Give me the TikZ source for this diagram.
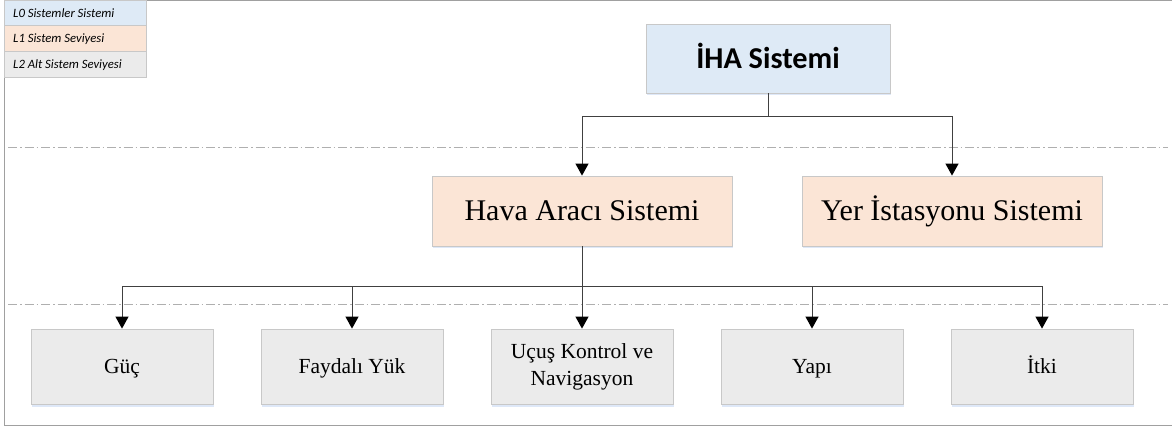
\documentclass[tikz,border=0pt]{standalone}
\usepackage{fontspec}
\setmainfont{Liberation Serif}
\newfontfamily\calfont{Carlito}
\usetikzlibrary{arrows.meta,shadows,calc}
\definecolor{lzero}{RGB}{222,234,246}
\definecolor{lone}{RGB}{251,229,214}
\definecolor{ltwo}{RGB}{235,235,235}
\definecolor{boxline}{RGB}{200,200,200}
\definecolor{frameline}{RGB}{160,160,160}
\definecolor{glow}{RGB}{200,218,244}
\definecolor{sepline}{RGB}{175,175,175}
\tikzset{
  sysbox/.style={draw=boxline, line width=0.8pt, inner sep=0pt, align=center,
    drop shadow={shadow xshift=1pt, shadow yshift=-2.5pt, fill=glow, opacity=0.6}},
  lvlzero/.style={sysbox, fill=lzero, minimum width=244pt, minimum height=69pt,
    text height=19.5pt, text depth=0pt,
    font=\calfont\bfseries\fontsize{30.3}{36}\selectfont},
  lvlone/.style={sysbox, fill=lone, minimum width=300pt, minimum height=70pt,
    text height=19.8pt, text depth=0pt,
    font=\fontsize{30}{36}\selectfont},
  lvltwo/.style={sysbox, fill=ltwo, minimum width=182pt, minimum height=75pt,
    font=\fontsize{21.5}{27}\selectfont},
  oneline/.style={text height=14.2pt, text depth=0pt},
  legendrow/.style={draw=boxline, line width=0.6pt},
  legendtext/.style={anchor=west, inner sep=0pt, text height=8.2pt, text depth=0pt,
    font=\calfont\itshape\fontsize{12.7}{14}\selectfont},
  conn/.style={line width=1pt, draw=black!75, -{Triangle[length=12pt,width=13pt,color=black]}},
  levelsep/.style={sepline, line width=0.8pt, dash pattern=on 9pt off 3pt on 1.5pt off 3pt}
}
\begin{document}
\begin{tikzpicture}[x=1pt, y=1pt]
  % canvas and outer frame
  \useasboundingbox (0,0) rectangle (1172,-430);
  \fill[white] (0,0) rectangle (1172,-430);
  \draw[frameline, line width=1pt] (4.5,-0.5) -- (1171.5,-0.5);
  \draw[frameline, line width=1pt] (4.5,-0.5) -- (4.5,-425.5) -- (1172,-425.5);

  % level legend
  \fill[lzero] (4.5,-0.5) rectangle (146,-25);
  \fill[lone] (4.5,-25) rectangle (146,-51);
  \fill[ltwo] (4.5,-51) rectangle (146,-77);
  \draw[legendrow] (4.5,-25) -- (146,-25);
  \draw[legendrow] (4.5,-51) -- (146,-51);
  \draw[legendrow] (4.5,-0.5) rectangle (146,-77);
  \node[legendtext] (lgzero) at (13,-13) {L0 Sistemler Sistemi};
  \node[legendtext] (lgone) at (13,-38.5) {L1 Sistem Seviyesi};
  \node[legendtext] (lgtwo) at (13,-64) {L2 Alt Sistem Seviyesi};

  % level separators
  \draw[levelsep] (8,-147) -- (1168,-147);
  \draw[levelsep] (8,-304) -- (1168,-304);

  % L0
  \node[lvlzero] (iha) at (768,-58.5) {İHA Sistemi};

  % L1
  \node[lvlone] (hava) at (582,-211) {Hava Aracı Sistemi};
  \node[lvlone] (yer) at (952,-211) {Yer İstasyonu Sistemi};

  % L2
  \node[lvltwo, oneline] (guc) at (122,-366.5) {Güç};
  \node[lvltwo, oneline] (yuk) at (352,-366.5) {Faydalı Yük};
  \node[lvltwo] (ucus) at (582,-366.5) {Uçuş Kontrol ve\\Navigasyon};
  \node[lvltwo, oneline] (yapi) at (812,-366.5) {Yapı};
  \node[lvltwo, oneline] (itki) at (1042,-366.5) {İtki};

  % connectors
  \coordinate (busone) at ($(iha.south)+(0,-23)$);
  \coordinate (bustwo) at ($(hava.south)+(0,-40)$);
  \draw[conn] (iha.south) -- (busone) -| (hava.north);
  \draw[conn] (iha.south) -- (busone) -| (yer.north);
  \draw[conn] (hava.south) -- (bustwo) -| (guc.north);
  \draw[conn] (hava.south) -- (bustwo) -| (yuk.north);
  \draw[conn] (hava.south) -- (ucus.north);
  \draw[conn] (hava.south) -- (bustwo) -| (yapi.north);
  \draw[conn] (hava.south) -- (bustwo) -| (itki.north);
\end{tikzpicture}
\end{document}
